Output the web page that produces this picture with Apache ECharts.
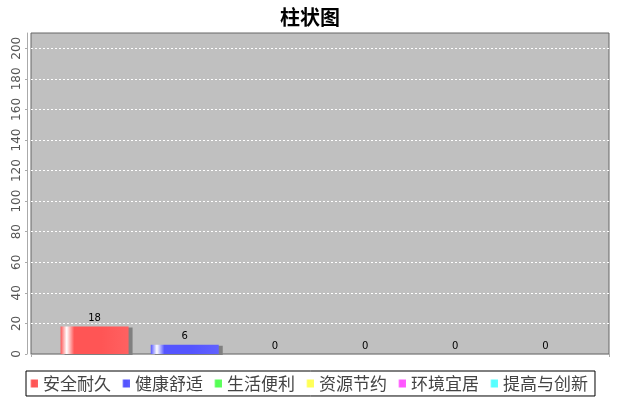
<!DOCTYPE html>
<html><head><meta charset="utf-8">
<script src="https://cdn.jsdelivr.net/npm/echarts@6/dist/echarts.min.js"></script>
<style>html,body{margin:0;padding:0;background:#fff}#c{width:620px;height:400px}</style>
</head><body><div id="c"></div>
<script>
const title = '柱状图';
const categories = [''];
const seriesNames = ['安全耐久','健康舒适','生活便利','资源节约','环境宜居','提高与创新'];
const seriesValues = [18, 6, 0, 0, 0, 0];
const colors = ['#ff5555','#5555ff','#55ff55','#ffff55','#ff55ff','#55ffff'];
const yTicks = [0,20,40,60,80,100,120,140,160,180,200];

function grad(c){
  return new echarts.graphic.LinearGradient(0,0,1,0,[
    {offset:0,color:c},{offset:0.09,color:'#ffffff'},{offset:0.2,color:c},
    {offset:0.6,color:c},{offset:1,color:echarts.color.lift(c,-0.15)}
  ]);
}
const chart = echarts.init(document.getElementById('c'));
chart.setOption({
  animation:false,
  color: colors,
  title:{text:title,left:'center',top:2,textStyle:{fontSize:20,fontWeight:'bold',color:'#000',fontFamily:'Noto Sans CJK SC'}},
  grid:{left:31,right:11,top:33,bottom:46,show:true,backgroundColor:'#c0c0c0',borderColor:'#666',borderWidth:1},
  legend:{top:371,left:26,width:568,itemWidth:8,itemHeight:8,itemGap:11,icon:'rect',
    borderColor:'#000',borderWidth:1,padding:[4,7,4,4],
    textStyle:{fontSize:17,color:'#444',fontFamily:'Noto Sans CJK SC'},
    data:seriesNames},
  xAxis:{type:'category',data:categories,offset:3,axisLine:{lineStyle:{color:'#aaa'}},axisTick:{show:true,length:3,lineStyle:{color:'#aaa'}},axisLabel:{show:false},splitLine:{show:false}},
  yAxis:{type:'value',min:yTicks[0],max:210,interval:20,offset:4,
    axisLine:{show:true,lineStyle:{color:'#aaa'}},axisTick:{show:true,length:2,lineStyle:{color:'#aaa'}},
    axisLabel:{rotate:90,fontSize:12,color:'#555',margin:4,fontFamily:'DejaVu Sans',showMaxLabel:false,
      formatter:v=>yTicks.includes(v)?String(v):''},
    splitLine:{show:true,showMaxLine:false,showMinLine:false,lineStyle:{color:'#ffffff',type:[2,2],width:1}}},
  series: seriesNames.map((n,i)=>({
    name:n,type:'bar',data:[seriesValues[i]],barWidth:68,barGap:'32.6%',
    itemStyle:{color:grad(colors[i]),shadowColor:'#808080',shadowOffsetX:4,shadowOffsetY:1,shadowBlur:0},
    label:{show:true,position:'top',distance:3,fontSize:10,color:'#000',fontFamily:'DejaVu Sans'}
  }))
});
</script></body></html>
